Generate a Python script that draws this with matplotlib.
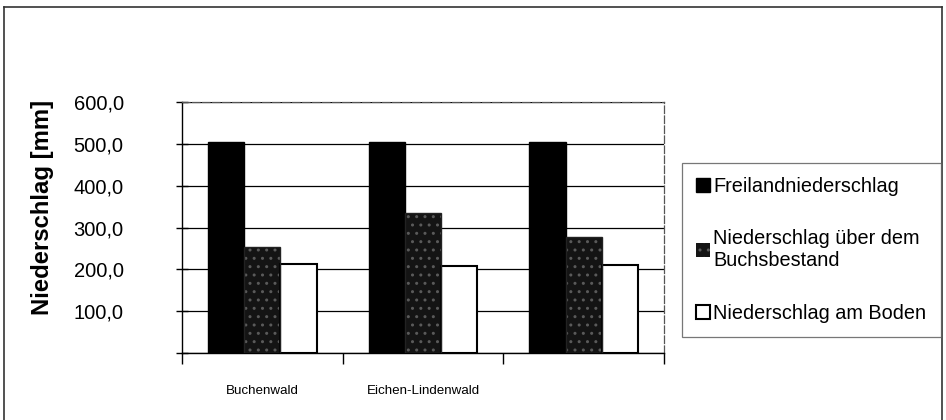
import numpy as np
import matplotlib
matplotlib.use("Agg")
import matplotlib.pyplot as plt
from matplotlib.lines import Line2D
from matplotlib.ticker import FuncFormatter, FixedLocator

plt.rcParams['font.family'] = ['Liberation Sans', 'DejaVu Sans']

# data
categories = ["Buchenwald", "Eichen-Lindenwald", ""]
freiland = [505, 505, 505]
ueber_buchs = [253, 335, 277]
am_boden = [212, 208, 210]
series_names = ["Freilandniederschlag",
                "Niederschlag über dem\nBuchsbestand",
                "Niederschlag am Boden"]

fig = plt.figure(figsize=(9.46, 4.2), dpi=100)
ax = fig.add_axes([182/946, 1 - 353.3/420, (664 - 182)/946, (353.3 - 101.7)/420])

x = np.arange(len(categories))
w = 0.225
b1 = ax.bar(x - w, freiland, w, color="black", edgecolor="black", lw=1, zorder=3)
# stippled dark bar: dark fill with light dot hatch, outline drawn on top
b2 = ax.bar(x, ueber_buchs, w, color="#141414", edgecolor="#5a5a5a", hatch="..", lw=0, zorder=3)
ax.bar(x, ueber_buchs, w, fill=False, edgecolor="#222222", lw=1, zorder=4)
b3 = ax.bar(x + w, am_boden, w, color="white", edgecolor="black", lw=1.5, zorder=3)

ax.set_xlim(-0.5, len(categories) - 0.5)
ax.set_ylim(0, 600)

ax.yaxis.set_major_locator(FixedLocator([0, 100, 200, 300, 400, 500, 600]))
ax.yaxis.set_major_formatter(FuncFormatter(lambda v, p: "" if v == 0 else f"{v:.1f}".replace(".", ",")))
ax.tick_params(axis="y", direction="inout", length=8, width=1, pad=38, labelsize=14.5)
ax.grid(axis="y", color="black", lw=0.9, zorder=0)

ax.set_xticks(x)
ax.set_xticklabels(categories, fontsize=9.6)
ax.set_xticks(np.arange(len(categories) + 1) - 0.5, minor=True)
ax.tick_params(axis="x", which="major", length=0, pad=23)
ax.tick_params(axis="x", which="minor", direction="out", length=8, width=1)

for side in ("top", "right"):
    ax.spines[side].set_color("#555555")
    ax.spines[side].set_linestyle((0, (6, 2)))
    ax.spines[side].set_linewidth(0.9)
for side in ("left", "bottom"):
    ax.spines[side].set_color("black")
    ax.spines[side].set_linewidth(1)

fig.text(42/946, 1 - 207/420, "Niederschlag [mm]", rotation=90, ha="center", va="center",
         fontsize=17.2, fontweight="bold")

leg = fig.legend([b1, b2, b3], series_names, loc="upper left",
                 bbox_to_anchor=(681.7/946, 1 - 162.7/420), fontsize=14.3,
                 frameon=True, fancybox=False, edgecolor="#555555",
                 handlelength=0.7, handleheight=0.7, handletextpad=0.2,
                 labelspacing=1.7, borderpad=0.7, borderaxespad=0)
leg.get_frame().set_linewidth(0.9)

# outer chart border (left, top, right)
for xs, ys in [([4/946, 4/946], [0, 1 - 7/420]),
               ([4/946, 942/946], [1 - 7/420, 1 - 7/420]),
               ([942/946, 942/946], [1 - 7/420, 0])]:
    fig.add_artist(Line2D(xs, ys, transform=fig.transFigure, color="#333333", lw=1.2))

fig.savefig("out.png", dpi=100)
